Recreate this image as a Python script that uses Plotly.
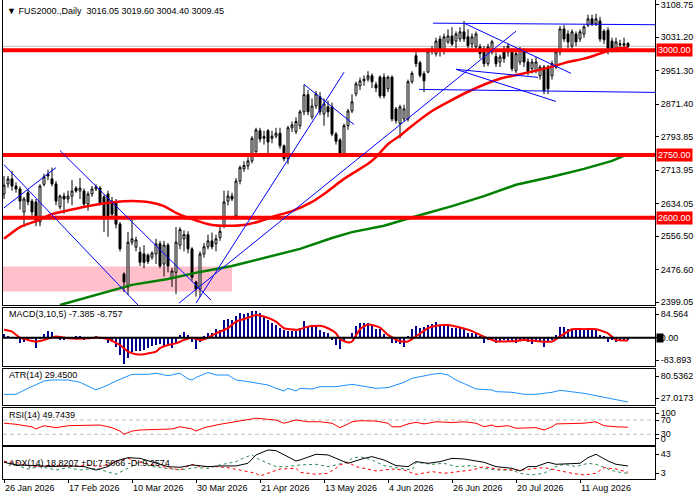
import plotly.graph_objects as go
from plotly.subplots import make_subplots

# ---------------- data ----------------
tick_idx = [0, 16, 32, 48, 64, 80, 96, 112, 128, 144]
tick_text = ["26 Jan 2026", "17 Feb 2026", "10 Mar 2026", "30 Mar 2026", "21 Apr 2026",
             "13 May 2026", "4 Jun 2026", "26 Jun 2026", "20 Jul 2026", "11 Aug 2026"]

opens = [2657, 2681, 2693, 2676, 2669, 2614, 2660, 2640, 2638, 2590,
         2680, 2704, 2693, 2681, 2626, 2652, 2645, 2652, 2671, 2664,
         2664, 2633, 2657, 2669, 2671, 2650, 2657, 2640, 2638, 2585,
         2466, 2435, 2542, 2530, 2518, 2514, 2511, 2506, 2514, 2538,
         2490, 2535, 2456, 2470, 2535, 2550, 2560, 2526, 2447, 2430,
         2514, 2531, 2545, 2538, 2553, 2580, 2640, 2652, 2605, 2688,
         2717, 2724, 2736, 2758, 2808, 2790, 2808, 2790, 2795, 2802,
         2772, 2741, 2815, 2806, 2820, 2853, 2894, 2841, 2867, 2889,
         2848, 2865, 2865, 2800, 2786, 2753, 2820, 2855, 2896, 2915,
         2927, 2931, 2939, 2918, 2936, 2936, 2908, 2936, 2860, 2825,
         2836, 2836, 2925, 2987, 2970, 2944, 2948, 2998, 2992, 3027,
         2999, 3020, 3034, 3022, 3027, 3044, 3032, 3015, 3008, 3008,
         3003, 2968, 2996, 2985, 2972, 3003, 2996, 2998, 2951, 2972,
         2998, 2972, 2956, 2951, 2939, 2960, 2960, 2939, 2960, 2996,
         3051, 3039, 3010, 3039, 3027, 3039, 3060, 3075, 3063, 3070,
         3046, 3048, 3022, 3003, 3013, 3012, 3016.05]
highs = [2700, 2700, 2712, 2685, 2675, 2650, 2668, 2645, 2645, 2680,
         2705, 2715, 2720, 2688, 2656, 2660, 2665, 2690, 2676, 2695,
         2670, 2663, 2676, 2680, 2676, 2655, 2665, 2650, 2645, 2590,
         2470, 2566, 2597, 2555, 2530, 2535, 2515, 2520, 2550, 2545,
         2545, 2540, 2480, 2578, 2578, 2570, 2568, 2530, 2450, 2520,
         2540, 2560, 2565, 2560, 2578, 2665, 2665, 2660, 2695, 2725,
         2735, 2745, 2795, 2815, 2815, 2808, 2812, 2808, 2815, 2815,
         2775, 2820, 2830, 2840, 2858, 2918, 2905, 2885, 2903, 2900,
         2885, 2880, 2875, 2805, 2790, 2825, 2860, 2895, 2925, 2935,
         2940, 2950, 2945, 2925, 2940, 2945, 2940, 2940, 2865, 2870,
         2870, 2930, 2950, 3000, 2975, 2950, 3005, 3010, 3030, 3035,
         3040, 3050, 3055, 3045, 3055, 3070, 3050, 3040, 3045, 3015,
         3010, 3015, 3025, 2995, 2990, 3010, 3015, 3005, 2998, 3008,
         3005, 2980, 2980, 2985, 2965, 2965, 2965, 2975, 3000, 3058,
         3060, 3048, 3050, 3045, 3050, 3060, 3085, 3085, 3087, 3080,
         3050, 3055, 3030, 3030, 3025, 3030, 3019.60]
lows = [2645, 2672, 2665, 2660, 2620, 2578, 2630, 2605, 2580, 2580,
        2675, 2690, 2675, 2630, 2620, 2610, 2635, 2630, 2660, 2645,
        2625, 2617, 2650, 2664, 2630, 2566, 2555, 2600, 2575, 2520,
        2423, 2416, 2535, 2520, 2485, 2480, 2490, 2500, 2490, 2480,
        2460, 2470, 2435, 2418, 2525, 2520, 2515, 2450, 2412, 2411,
        2505, 2525, 2525, 2520, 2545, 2575, 2630, 2640, 2595, 2680,
        2710, 2715, 2730, 2750, 2780, 2775, 2748, 2778, 2790, 2765,
        2735, 2728, 2805, 2800, 2812, 2845, 2845, 2835, 2860, 2845,
        2820, 2840, 2795, 2775, 2745, 2748, 2810, 2850, 2890, 2905,
        2915, 2925, 2910, 2900, 2885, 2885, 2900, 2830, 2825, 2790,
        2830, 2830, 2920, 2960, 2935, 2900, 2945, 2990, 2985, 2985,
        2990, 3015, 3010, 3005, 3020, 3020, 3005, 3005, 3000, 2980,
        2960, 2962, 2990, 2960, 2960, 2970, 2985, 2950, 2945, 2965,
        2960, 2940, 2945, 2945, 2930, 2895, 2895, 2930, 2955, 2988,
        3020, 3005, 3002, 3010, 3020, 3030, 3055, 3058, 3058, 3020,
        3015, 2990, 2995, 2995, 3003, 3005, 3004.40]
closes = [2678, 2693, 2676, 2669, 2640, 2645, 2638, 2614, 2590, 2676,
          2698, 2700, 2681, 2640, 2652, 2645, 2652, 2664, 2664, 2671,
          2633, 2657, 2669, 2674, 2636, 2600, 2604, 2609, 2585, 2526,
          2447, 2542, 2550, 2547, 2494, 2494, 2496, 2516, 2538, 2485,
          2535, 2485, 2473, 2542, 2572, 2560, 2526, 2458, 2430, 2514,
          2531, 2545, 2531, 2550, 2568, 2638, 2652, 2645, 2688, 2720,
          2725, 2736, 2790, 2810, 2788, 2794, 2781, 2795, 2802, 2772,
          2741, 2815, 2822, 2830, 2853, 2894, 2853, 2867, 2896, 2853,
          2872, 2853, 2800, 2783, 2753, 2820, 2855, 2877, 2920, 2927,
          2931, 2939, 2925, 2910, 2891, 2891, 2936, 2836, 2832, 2865,
          2860, 2925, 2945, 2968, 2940, 2927, 2998, 3003, 3022, 3003,
          3032, 3034, 3015, 3039, 3044, 3027, 3011, 3032, 3039, 2992,
          2968, 3008, 3020, 2968, 2984, 2980, 3010, 2956, 2992, 3003,
          2972, 2948, 2972, 2972, 2960, 2903, 2908, 2968, 2996, 3051,
          3027, 3020, 3044, 3020, 3044, 3056, 3075, 3063, 3075, 3027,
          3025, 2998, 3003, 3020, 3015, 3016, 3009.45]
bars = list(range(len(closes)))

ma_red_idx = [0, 4, 8, 12, 19, 24, 28, 32, 37, 40, 43, 47, 52, 56, 60, 64, 68, 72, 77, 80,
              85, 91, 93, 96, 99, 101, 107, 116, 124, 132, 137, 141, 145, 149, 153, 156]
ma_red_val = [2550, 2578, 2592, 2609, 2624, 2633, 2638, 2640, 2636, 2628, 2612, 2597, 2583,
              2581, 2583, 2592, 2605, 2616, 2638, 2657, 2693, 2729, 2745, 2776, 2796, 2812,
              2855, 2901, 2932, 2949, 2961, 2972, 2980, 2992, 3004, 3006]

ma_green_idx = [14, 24, 32, 41, 49, 57, 66, 74, 82, 87, 95, 103, 112, 120, 128, 137, 145, 152, 156]
ma_green_val = [2392, 2418, 2440, 2454, 2471, 2485, 2507, 2526, 2552, 2566, 2581, 2604, 2628,
                2652, 2679, 2698, 2717, 2736, 2752]

levels = [3000, 2750, 2600]
last_price = 3009.45
zone_idx = [-1, 57]
zone_price = [2424, 2484]

# trend lines: (start index, start price, end index, end price)
trend_x0 = [0, 14, 0, 48, 43.75, 75, 107.25, 103.75, 115, 113, 113]
trend_y0 = [2727, 2760.5, 2624, 2396.5, 2396.5, 2918.6, 3064.7, 2906.6, 3064.7, 2954.5, 2954.5]
trend_x1 = [33.5, 51.75, 13, 85, 128, 87.5, 163, 163, 141.75, 138, 133.5]
trend_y1 = [2392, 2403.6, 2720, 2947.3, 3045.5, 2822.8, 3061, 2899.4, 2944.9, 2877.9, 2935.3]

macd_hist = [10.6, 6, 2, -3, -18, -12, -7, -5, -31, -4,
             11, 21, 19, 6, -7, -7, -2, 2, 5, 5,
             -7, -5, 1, 6, 2, -5, -16, -12, -28, -55,
             -84, -65, -44, -42, -42, -39, -33, -26, -23, -21,
             -26, -21, -33, -18, 9, 17, 9, -15, -37, -12,
             4, 16, 16, 27, 25, 56, 59, 56, 70, 77,
             74, 77, 83, 84.6, 77, 67, 56, 46, 40, 30,
             25, 21, 21, 21, 32, 53, 38, 40, 38, 25,
             19, 14, -7, -23, -37, -11, 2, 14, 38, 46,
             46, 46, 38, 27, 27, 11, 0.5, -18, -18, -21,
             -28, 6, 27, 38, 30, 35, 40, 42, 51, 40,
             40, 38, 32, 30, 30, 27, 14, 14, 14, 6,
             -18, -7, -7, -18, -12, -7, -11, -11, -18, -7,
             -11, -12, -21, -12, -11, -28, -12, -7, 9, 35,
             35, 27, 27, 27, 27, 27, 27, 27, 27, 9,
             6, -12, -7, -15, -11, -11, -7.385]
sig_idx = [0, 2, 4, 8, 10, 13, 16, 21, 23, 26, 29, 31, 33, 35, 38, 39, 41, 43, 45, 47,
           49, 51, 53, 56, 58, 61, 63, 65, 68, 70, 73, 74, 76, 79, 81, 83, 84, 86, 87, 89,
           91, 94, 96, 99, 101, 103, 106, 108, 111, 114, 117, 119, 121, 123, 127, 130, 134,
           137, 139, 142, 145, 148, 151, 153, 156]
sig_val = [25, 19, 0, -12, -7, 4, -2, -2, 1, -4, -23, -44, -52, -52, -44, -33, -23, -18, -7, 0,
           -7, 0, 14, 30, 51, 63, 72, 67, 51, 30, 25, 27, 35, 38, 30, 14, -4, -15, -12, 27,
           42, 32, 9, -11, -12, 4, 30, 38, 40, 32, 21, 9, -2, -11, -11, -7, -12,
           -12, 4, 27, 27, 27, 14, -7, -8.757]

atr_idx = [0, 3, 6, 8, 10, 12, 16, 19, 23, 26, 28, 32, 36, 38, 41, 44, 46, 47, 48, 51,
           53, 56, 58, 60, 63, 66, 68, 70, 71, 73, 74, 77, 79, 83, 87, 90, 93, 96, 98, 100,
           102, 105, 107, 109, 111, 113, 116, 118, 122, 123, 127, 130, 133, 137, 139, 142,
           145, 148, 152, 156]
atr_val = [42.8, 42.8, 53.2, 58.9, 65.8, 67.6, 67.6, 63.6, 50.3, 58.9, 65.8, 77.4, 77.4, 79.2,
           75.0, 79.2, 69.4, 67.6, 72.0, 80.54, 76.2, 76.2, 67.6, 65.8, 61.9, 58.9, 53.2, 48.5,
           53.2, 48.5, 53.2, 52.0, 56.0, 56.0, 60.1, 56.0, 53.2, 54.3, 58.9, 63.6, 70.5, 75.0,
           77.4, 79.2, 76.2, 67.6, 57.8, 52.0, 50.3, 47.4, 46.3, 42.8, 42.8, 46.3, 49.7, 47.4,
           44.5, 40.4, 34.7, 29.45]

rsi_idx = [0, 3, 7, 8, 10, 13, 16, 20, 24, 27, 29, 30, 32, 34, 38, 42, 44, 47, 48, 50,
           54, 59, 63, 66, 68, 70, 73, 76, 79, 82, 84, 86, 87, 89, 93, 96, 97, 99, 101, 103,
           105, 108, 112, 115, 118, 120, 122, 123, 126, 128, 131, 133, 135, 137, 138, 142,
           145, 148, 150, 153, 156]
rsi_val = [61, 58, 51, 45, 54, 48.5, 54, 54, 56, 48.5, 39, 30, 39, 42, 44, 45, 51, 45, 39, 48.5,
           58, 67, 75, 72, 70, 61, 70, 65, 65, 61, 48.5, 59, 65, 68, 67, 61, 51, 51, 59, 63.5,
           59, 65, 63, 65, 61, 51, 56, 51, 54, 47, 47, 48.5, 42, 51, 59, 59,
           61, 65, 54, 51, 49.74]

adx_idx = [0, 3, 8, 12, 16, 20, 23, 26, 28, 31, 34, 38, 41, 44, 47, 51, 54, 58, 61, 63,
           66, 68, 71, 73, 74, 78, 81, 83, 86, 90, 92, 95, 98, 101, 103, 106, 109, 112, 115, 118,
           120, 123, 127, 129, 131, 133, 136, 138, 142, 144, 146, 148, 151, 153, 156]
adx_val = [24.4, 20.4, 19.4, 17.9, 18.9, 17.9, 12.8, 17.9, 26.4, 31.4, 30.4, 22.9, 17.9, 16.8,
           20.4, 17.9, 18.9, 18.9, 22.9, 35.5, 43, 42, 32.9, 26.4, 27.9, 36.5, 35.5, 30.4, 22.9,
           30.4, 32.9, 27.9, 19.4, 17.9, 25.4, 22.9, 25.4, 30.4, 29.4, 26.4, 24.4, 17.9, 15.3,
           11.3, 17.9, 17.9, 24.4, 21.4, 22.9, 22.9, 31.4, 36.5, 26.4, 21.4, 18.82]
pdi_idx = [0, 3, 6, 9, 13, 16, 19, 23, 26, 28, 31, 34, 37, 41, 44, 48, 51, 54, 58, 60,
           62, 64, 68, 71, 74, 78, 81, 83, 86, 87, 89, 92, 95, 98, 102, 103, 107, 110, 113, 117,
           120, 123, 127, 129, 132, 135, 138, 140, 143, 146, 148, 151, 153, 156]
pdi_val = [26.4, 20.4, 14.3, 17.9, 12.8, 16.3, 12.8, 15.3, 10.3, 6.3, 15.3, 25.4, 17.9, 15.3,
           12.8, 16.3, 15.3, 20.4, 25.4, 31.4, 35.5, 27.9, 17.9, 17.9, 20.4, 21.4, 17.9, 20.4,
           25.4, 30.4, 32.9, 27.9, 19.4, 16.3, 12.8, 24.4, 21.4, 22.9, 17.9, 19.4, 15.3, 12.8,
           12.8, 7.8, 5.3, 7.8, 17.9, 21.4, 17.9, 22.9, 21.4, 14.3, 10.3, 7.5066]
mdi_idx = [0, 3, 5, 8, 13, 16, 21, 24, 28, 31, 34, 38, 41, 44, 47, 49, 53, 56, 59, 63,
           64, 66, 69, 73, 74, 78, 81, 83, 84, 86, 88, 90, 93, 97, 100, 103, 107, 110, 113, 117,
           120, 123, 127, 130, 133, 135, 138, 142, 145, 148, 150, 153, 156]
mdi_val = [25.4, 24.4, 20.4, 17.9, 20.4, 17.9, 20.4, 17.9, 25.4, 30.4, 24.4, 20.4, 16.3, 12.8,
           21.4, 17.9, 17.9, 16.3, 12.8, 7.8, 3.8, 7.8, 14.3, 15.3, 9.3, 6.3, 7.8, 15.3, 20.4,
           24.4, 17.9, 15.3, 11.3, 14.3, 12.8, 6.3, 10.3, 7.8, 10.3, 12.8, 17.9, 14.3, 12.8,
           12.8, 15.3, 16.3, 12.8, 7.8, 5.3, 7.8, 16.3, 14.3, 9.2574]

price_ticks = [3108.75, 3031.20, 2951.30, 2871.40, 2793.85, 2713.95, 2634.05, 2556.50, 2476.60, 2399.05]
macd_ticks = ["84.564", "0.00", "-83.893"]
atr_ticks = ["80.5362", "27.0173"]
rsi_levels = [100, 70, 30, 0]
adx_ticks = ["43", "3"]

# ---------------- figure ----------------
FONT = "Liberation Sans"
fig = make_subplots(rows=5, cols=1, shared_xaxes=True, vertical_spacing=0.0)

fig.add_trace(go.Candlestick(
    x=bars, open=opens, high=highs, low=lows, close=closes,
    increasing=dict(line=dict(color="black", width=1), fillcolor="white"),
    decreasing=dict(line=dict(color="black", width=1), fillcolor="black"),
    whiskerwidth=0, showlegend=False, hoverinfo="skip"), row=1, col=1)
fig.add_trace(go.Scatter(x=ma_green_idx, y=ma_green_val, mode="lines",
                         line=dict(color="#008000", width=2.5), showlegend=False), row=1, col=1)
fig.add_trace(go.Scatter(x=ma_red_idx, y=ma_red_val, mode="lines",
                         line=dict(color="#FF0000", width=2.5, shape="spline", smoothing=0.6),
                         showlegend=False), row=1, col=1)

# MACD
fig.add_trace(go.Bar(x=bars, y=macd_hist, marker=dict(color="#00008B", line=dict(width=0)),
                     width=0.55, showlegend=False), row=2, col=1)
fig.add_trace(go.Scatter(x=sig_idx, y=sig_val, mode="lines",
                         line=dict(color="#FF0000", width=2, shape="spline", smoothing=0.5),
                         showlegend=False), row=2, col=1)
# ATR
fig.add_trace(go.Scatter(x=atr_idx, y=atr_val, mode="lines",
                         line=dict(color="#1E90FF", width=1), showlegend=False), row=3, col=1)
# RSI
fig.add_trace(go.Scatter(x=rsi_idx, y=rsi_val, mode="lines",
                         line=dict(color="#FF0000", width=1), showlegend=False), row=4, col=1)
# ADX
fig.add_trace(go.Scatter(x=pdi_idx, y=pdi_val, mode="lines",
                         line=dict(color="#2E8B57", width=1, dash="3px,3px"), showlegend=False), row=5, col=1)
fig.add_trace(go.Scatter(x=mdi_idx, y=mdi_val, mode="lines",
                         line=dict(color="#FF0000", width=1, dash="3px,3px"), showlegend=False), row=5, col=1)
fig.add_trace(go.Scatter(x=adx_idx, y=adx_val, mode="lines",
                         line=dict(color="black", width=1), showlegend=False), row=5, col=1)

# ---------------- layout geometry (pixels of the 700x500 frame) ----------------
H = 480.0
PW = 652.0
PANELS = [(0, 305), (308, 366), (369, 405), (408, 445), (447, 479)]
ranges = [[2392, 3120], [-89.4, 93.9], [24.3, 86.6], [0, 103.6], [-0.8, 47.5]]

def dom(top_px, bot_px):
    return [1 - bot_px / H, 1 - top_px / H]

def py(p):
    return 1 - p / H

def val_at(k, p):
    top_px, bot_px = PANELS[k]
    lo, hi = ranges[k]
    return hi - (p - top_px) / (bot_px - top_px) * (hi - lo)

# shapes
shapes = []
shapes.append(dict(type="rect", xref="x", yref="y", x0=zone_idx[0], x1=zone_idx[1],
                   y0=zone_price[0], y1=zone_price[1], fillcolor="#FFC0CB",
                   line=dict(width=0), layer="below"))
shapes.append(dict(type="line", xref="x domain", yref="y", x0=0, x1=1, y0=last_price, y1=last_price,
                   line=dict(color="#C0C0C0", width=1), layer="below"))
for lv in levels:
    shapes.append(dict(type="line", xref="x domain", yref="y", x0=0, x1=1, y0=lv, y1=lv,
                       line=dict(color="#FF0000", width=4), layer="above"))
for a, b, c, d in zip(trend_x0, trend_y0, trend_x1, trend_y1):
    shapes.append(dict(type="line", xref="x", yref="y", x0=a, y0=b, x1=c, y1=d,
                       line=dict(color="#0000FF", width=1), layer="above"))
shapes.append(dict(type="line", xref="x2 domain", yref="y2", x0=0, x1=1, y0=0, y1=0,
                   line=dict(color="black", width=2), layer="above"))
for lv in (70, 30):
    shapes.append(dict(type="line", xref="x4 domain", yref="y4", x0=0, x1=1, y0=lv, y1=lv,
                       line=dict(color="#C0C0C0", width=1, dash="4px,3px"), layer="below"))
# black marker box of the MACD zero level on the price scale
shapes.append(dict(type="rect", xref="paper", yref="paper", x0=1 + 1.5 / PW, x1=1 + 8.5 / PW,
                   y0=py(342.5), y1=py(333.5), fillcolor="black", line=dict(width=0)))
fig.update_layout(shapes=shapes)

domains = [dom(*p) for p in PANELS]

# scale labels printed where the terminal prints them
ytv = [price_ticks,
       [val_at(1, 314), 0, val_at(1, 360)],
       [val_at(2, 376), val_at(2, 398)],
       [val_at(3, 413), 70, 30, val_at(3, 438.5)],
       [val_at(4, 454), val_at(4, 473)]]
ytt = [[f"{v:.2f}" for v in price_ticks], macd_ticks, atr_ticks,
       [str(v) for v in rsi_levels], adx_ticks]

for k in range(5):
    sfx = "" if k == 0 else str(k + 1)
    fig.layout["yaxis" + sfx].update(
        domain=domains[k], range=ranges[k], side="right", showgrid=False, zeroline=False,
        showline=True, mirror=True, linecolor="black", linewidth=1,
        ticks="outside", ticklen=3, tickcolor="black", tickvals=ytv[k], ticktext=ytt[k],
        ticklabeloverflow="allow",
        tickfont=dict(family=FONT, size=9, color="black"), fixedrange=True)
    fig.layout["xaxis" + sfx].update(
        range=[-0.25, 162.75], showgrid=False, zeroline=False, showline=True, mirror=True,
        linecolor="black", linewidth=1, showticklabels=False, ticks="",
        rangeslider=dict(visible=False), fixedrange=True)

fig.layout["xaxis5"].update(showticklabels=True, tickvals=tick_idx, ticktext=tick_text,
                            ticks="outside", ticklen=3, tickcolor="black",
                            ticklabelposition="outside right", ticklabeloverflow="allow",
                            tickfont=dict(family=FONT, size=9, color="black"))

# annotations
ann = []
ann.append(dict(x=0.0, y=py(11), xref="paper", yref="paper", xanchor="left", yanchor="middle",
                text="▼ FUS2000.,Daily  3016.05 3019.60 3004.40 3009.45", showarrow=False,
                font=dict(family=FONT, size=9, color="black"), xshift=2))
labels = [("MACD(3,10,5) -7.385 -8.757", 314), ("ATR(14) 29.4500", 375),
          ("RSI(14) 49.7439", 415), ("ADX(14) 18.8207 +DI:7.5066 -DI:9.2574", 463)]
for t, p in labels:
    ann.append(dict(x=0.0, y=py(p), xref="paper", yref="paper", xanchor="left", yanchor="middle",
                    text=t, showarrow=False, font=dict(family=FONT, size=9, color="black"), xshift=4))
for lv in levels:
    ann.append(dict(x=1, y=lv, xref="paper", yref="y", xanchor="left", yanchor="middle",
                    text=f"{lv:.2f}", showarrow=False, bgcolor="#FF0000",
                    font=dict(family=FONT, size=9, color="white"), borderpad=1, xshift=1))
fig.update_layout(annotations=ann)

fig.update_layout(width=700, height=500, margin=dict(l=3, r=45, t=0, b=20),
                  paper_bgcolor="white", plot_bgcolor="white", showlegend=False,
                  bargap=0, hovermode=False, font=dict(family=FONT, size=9, color="black"))

fig.write_html("out.html", config={"displayModeBar": False, "staticPlot": True},
               post_script="document.body.style.margin='0px';")
